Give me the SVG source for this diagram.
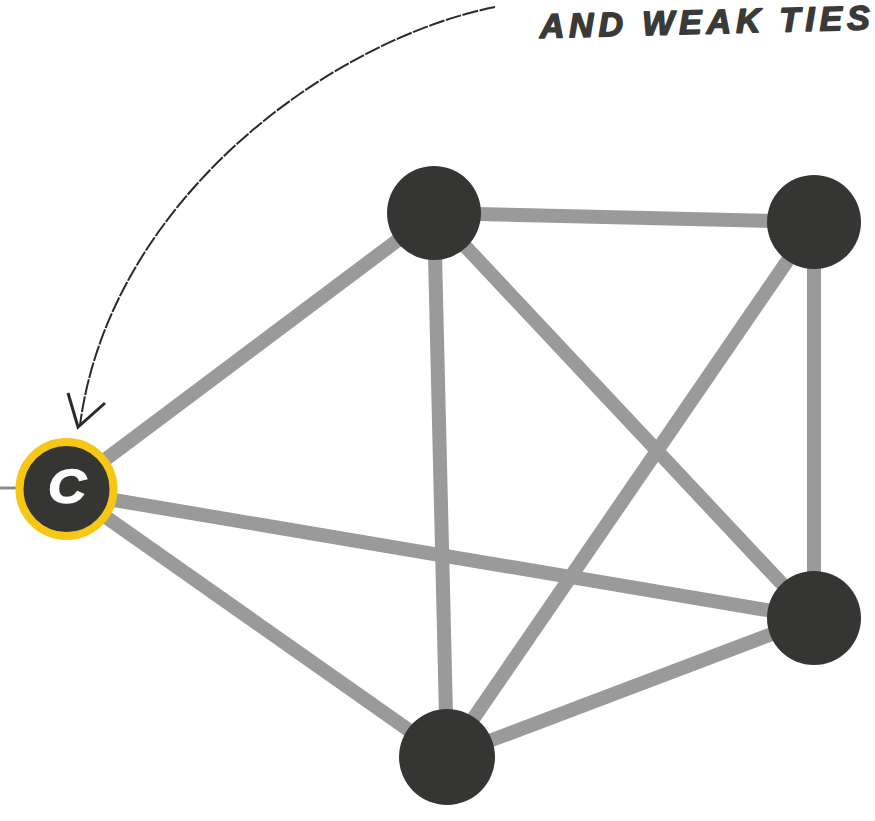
<svg xmlns="http://www.w3.org/2000/svg" width="875" height="821" viewBox="0 0 875 821">
<style>
.edge{stroke:#9a9a9a;stroke-width:14;stroke-linecap:butt;fill:none}
.node{fill:#353533}
.hand{font-family:"Liberation Sans",Arial,sans-serif;font-weight:bold;font-style:italic;fill:#3a3a38;stroke:#3a3a38;stroke-width:1.6;stroke-linejoin:round}
</style>
<rect width="875" height="821" fill="#ffffff"/>
<g id="connectors">
<line class="edge" x1="66" y1="489" x2="434" y2="213"/>
<line class="edge" x1="66" y1="492" x2="814" y2="618"/>
<line class="edge" x1="66" y1="489" x2="447" y2="757"/>
<line class="edge" x1="434" y1="213" x2="814" y2="222"/>
<line class="edge" x1="434" y1="213" x2="447" y2="757"/>
<line class="edge" x1="434" y1="213" x2="814" y2="618"/>
<line class="edge" x1="814" y1="222" x2="447" y2="757"/>
<line class="edge" x1="814" y1="222" x2="814" y2="618"/>
<line class="edge" x1="814" y1="618" x2="447" y2="757"/>
<line x1="0" y1="488" x2="20" y2="488" stroke="#8a8a8a" stroke-width="3"/>
</g>
<g id="annotation-arrow">
<path d="M495,7 C330,40 110,200 80,425" fill="none" stroke="#2a2a2a" stroke-width="2" stroke-dasharray="16 1.5"/>
<polyline points="68,393 78,427 105,403" fill="none" stroke="#2a2a2a" stroke-width="3" stroke-linejoin="miter"/>
</g>
<g id="node-a"><circle class="node" cx="434" cy="213" r="47"/></g>
<g id="node-b"><circle class="node" cx="814" cy="222" r="47"/></g>
<g id="node-d"><circle class="node" cx="814" cy="618" r="47"/></g>
<g id="node-e"><circle class="node" cx="447" cy="757" r="48"/></g>
<g id="node-c">
<circle cx="66.5" cy="489" r="47" fill="#353533" stroke="#f7c716" stroke-width="8"/>
<text x="67" y="503" text-anchor="middle" font-family="'Liberation Sans',Arial,sans-serif" font-weight="bold" font-style="italic" font-size="48" fill="#ffffff" stroke="#ffffff" stroke-width="1.5" textLength="38" lengthAdjust="spacingAndGlyphs">C</text>
</g>
<g id="label-weak-ties">
<text class="hand" x="540" y="38" font-size="34" textLength="330" lengthAdjust="spacing" transform="rotate(-1.5 540 38)">AND WEAK TIES</text>
</g>
</svg>
